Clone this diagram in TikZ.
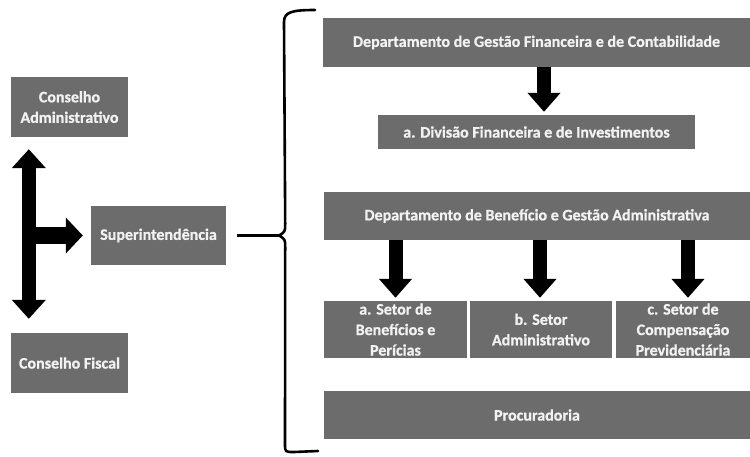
\documentclass[tikz,border=0pt]{standalone}
\usepackage{fontspec}
\setmainfont{Carlito}[BoldFeatures={FakeBold=0.8}]
\usetikzlibrary{arrows.meta,calc}
\definecolor{boxgray}{RGB}{108,108,108}
\definecolor{txtc}{RGB}{242,242,242}
\begin{document}
\begin{tikzpicture}[x=1pt,y=-1pt,
  box/.style={fill=boxgray, text=txtc, font=\bfseries\fontsize{16}{20.5}\selectfont,
    align=center, inner sep=0pt, draw=none},
  bigarrow/.style={line width=14pt, -{Triangle[length=19pt,width=32pt]}},
  bracel/.style={line width=2.6pt, line cap=round, line join=round}]
\useasboundingbox (0,0) rectangle (750,456);
\fill[white] (0,0) rectangle (750,456);
% left side
\node[box, minimum width=117pt, minimum height=60pt] (ca) at (69.5,107) {Conselho\\Administrativo};
\node[box, minimum width=135pt, minimum height=59pt] (sup) at (158.5,235.5) {Superintendência};
\node[box, minimum width=117pt, minimum height=60pt] (cf) at (69.5,363) {Conselho Fiscal};
% right side
\node[box, minimum width=427pt, minimum height=49pt] (dgf) at (536.5,42.5) {Departamento de Gestão Financeira e de Contabilidade};
\node[box, minimum width=317pt, minimum height=34pt] (div) at (536.5,132) {a. Divisão Financeira e de Investimentos};
\node[box, minimum width=426pt, minimum height=48pt] (dba) at (537,216) {Departamento de Benefício e Gestão Administrativa};
\node[box, minimum width=143pt, minimum height=57pt] (sa) at (395.5,329.5) {a. Setor de\\Benefícios e\\Perícias};
\node[box, minimum width=142pt, minimum height=57pt] (sb) at (541,329.5) {b. Setor\\Administrativo};
\node[box, minimum width=134pt, minimum height=57pt] (sc) at (683,329.5) {c. Setor de\\Compensação\\Previdenciária};
\node[box, minimum width=426pt, minimum height=48pt] (proc) at (537,415) {Procuradoria};
% left double arrow
\coordinate (vt) at ($(ca.south west)+(18,12)$);
\coordinate (vb) at ($(cf.north west)+(18,-14)$);
\draw[line width=14pt, {Triangle[length=19pt,width=33pt]}-{Triangle[length=19pt,width=33pt]}] (vt) -- (vb);
\draw[line width=17pt, -{Triangle[length=17pt,width=35pt]}] (vt |- sup.west) -- ($(sup.west)+(-8,0)$);
% down arrows
\draw[bigarrow] ($(dgf.south)+(7.5,0)$) -- ($(div.north)+(7.5,-3)$);
\draw[bigarrow] (dba.south -| sa.north) -- ($(sa.north)+(0,-3)$);
\draw[bigarrow] ($(dba.south -| sb.north)+(-1,0)$) -- ($(sb.north)+(-1,-3)$);
\draw[bigarrow] ($(dba.south -| sc.north)+(5,0)$) -- ($(sc.north)+(5,-3)$);
% brace
\coordinate (cusp) at ($(sup.east)+(53,0)$);
\draw[line width=3pt] ($(sup.east)+(11,0)$) -- (cusp);
\draw[bracel] (315,10) .. controls (292,10) and (284,12) .. (284,22) -- ($(cusp)+(6,-12)$)
  .. controls ($(cusp)+(6,-4)$) .. (cusp) .. controls ($(cusp)+(6,4)$) .. ($(cusp)+(6,12)$)
  -- (285,444) .. controls (285,452) .. (294,452) -- (318,451);
\end{tikzpicture}
\end{document}
